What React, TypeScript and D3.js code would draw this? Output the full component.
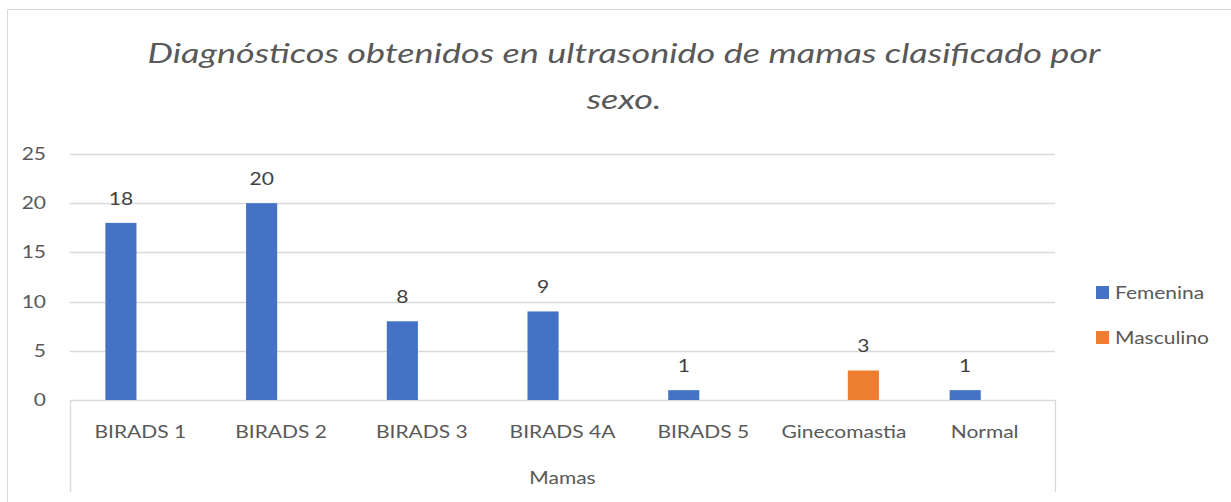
import React from 'react';
import * as d3 from 'd3';

const categories = ['BIRADS 1', 'BIRADS 2', 'BIRADS 3', 'BIRADS 4A', 'BIRADS 5', 'Ginecomastia', 'Normal'];
const seriesNames = ['Femenina', 'Masculino'];
const femenina: (number | null)[] = [18, 20, 8, 9, 1, null, 1];
const masculino: (number | null)[] = [null, null, null, null, null, 3, null];
const yTicks = [0, 5, 10, 15, 20, 25];
const titleLines = ['Diagnósticos obtenidos en ultrasonido de mamas clasificado por', 'sexo.'];
const groupLabel = 'Mamas';

const colors = ['#4472c4', '#ed7d31'];
const font = 'Lato, "Open Sans", sans-serif';

// the reference text is wide (stretched), so labels get a horizontal scale
const Label: React.FC<{ x: number; y: number; anchor?: string; size?: number; sx?: number; fill?: string; italic?: boolean; children: React.ReactNode }> =
  ({ x, y, anchor = 'middle', size = 16.8, sx = 1.25, fill = '#595959', italic = false, children }) => (
    <text transform={`translate(${x},${y}) scale(${sx},1)`} textAnchor={anchor} fontFamily={font} fontSize={size}
      fontStyle={italic ? 'italic' : 'normal'} fill={fill}>{children}</text>
  );

const App: React.FC = () => {
  const width = 1231;
  const height = 502;
  const plot = { left: 70, right: 1055, top: 154, bottom: 400 };

  const x0 = d3.scaleBand<string>().domain(categories).range([plot.left, plot.right]).paddingInner(0).paddingOuter(0);
  const x1 = d3.scaleBand<string>().domain(seriesNames).range([-35, 35]).paddingInner(0.2);
  const y = d3.scaleLinear().domain([0, 25]).range([plot.bottom, plot.top]);

  const seriesValues = [femenina, masculino];

  return (
    <svg width={width} height={height} style={{ position: 'absolute', left: 0, top: 0, display: 'block' }}>
      <rect x={0} y={0} width={width} height={height} fill="#fff" />
      <path d={`M7.5,${height}V9.5H${width}`} fill="none" stroke="#d9d9d9" strokeWidth={1} />

      {titleLines.map((t, i) => (
        <Label key={t} x={624} y={63 + i * 46} size={26.5} sx={1.36} italic>{t}</Label>
      ))}

      {yTicks.map(t => (
        <g key={t}>
          <line x1={plot.left} x2={plot.right} y1={Math.round(y(t)) + 0.5} y2={Math.round(y(t)) + 0.5} stroke="#d9d9d9" strokeWidth={1.3} />
          <Label x={46} y={y(t) + 6} anchor="end">{t}</Label>
        </g>
      ))}

      <line x1={plot.left + 0.5} x2={plot.left + 0.5} y1={plot.bottom} y2={492} stroke="#d9d9d9" strokeWidth={1.3} />
      <line x1={plot.right + 0.5} x2={plot.right + 0.5} y1={plot.bottom} y2={492} stroke="#d9d9d9" strokeWidth={1.3} />

      {seriesValues.map((vals, si) => (
        <g key={seriesNames[si]}>
          {categories.map((c, ci) => {
            const v = vals[ci];
            if (v === null) return null;
            const cx = (x0(c) ?? 0) + x0.bandwidth() / 2;
            const bx = cx + (x1(seriesNames[si]) ?? 0);
            return (
              <g key={c}>
                <rect x={bx} y={y(v)} width={x1.bandwidth()} height={y(0) - y(v)} fill={colors[si]} />
                <Label x={bx + x1.bandwidth() / 2} y={y(v) - 18} fill="#404040">{v}</Label>
              </g>
            );
          })}
        </g>
      ))}

      {categories.map(c => (
        <Label key={c} x={(x0(c) ?? 0) + x0.bandwidth() / 2} y={438}>{c}</Label>
      ))}
      <Label x={(plot.left + plot.right) / 2} y={484}>{groupLabel}</Label>

      {seriesNames.map((s, i) => (
        <g key={s} transform={`translate(1096,${293 + i * 45})`}>
          <rect x={0} y={-7} width={13} height={13} fill={colors[i]} />
          <Label x={19} y={6} anchor="start">{s}</Label>
        </g>
      ))}
    </svg>
  );
};

export default App;
